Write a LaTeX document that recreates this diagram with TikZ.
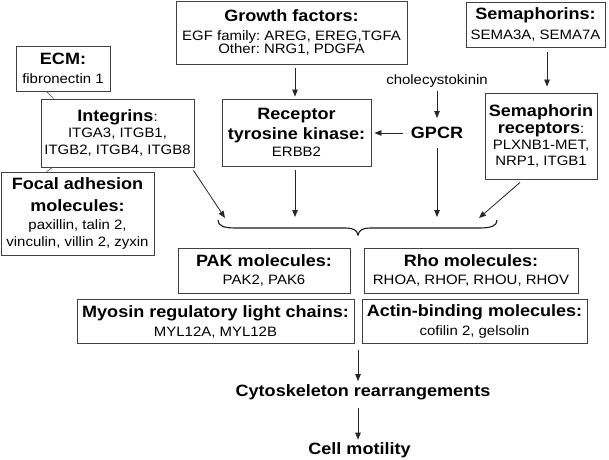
\documentclass[tikz,border=0pt]{standalone}
\usepackage{fontspec}
\setmainfont{Liberation Sans}[FakeStretch=1.1]
\usetikzlibrary{arrows.meta}
\newcommand\Rf{\fontsize{13.6}{16}\selectfont}
\newcommand\Bf{\fontsize{16.4}{19}\selectfont\bfseries}
\frenchspacing
\begin{document}
\frenchspacing
\begin{tikzpicture}[x=1pt,y=-1pt,
  box/.style={draw=black!75, line width=0.9pt, fill=white, inner sep=0pt, align=center, font=\Rf},
  lbl/.style={inner sep=3pt, font=\Rf},
  blbl/.style={inner sep=3pt, font=\Bf},
  arr/.style={-{Triangle[length=7pt,width=5.5pt]}, line width=0.8pt, draw=black!85},
  link/.style={line width=0.6pt, draw=black!70}]
\fill[white] (0,0) rectangle (609,459);
\useasboundingbox (0,0) rectangle (609,459);

% top row
\node[box, minimum width=231pt, minimum height=63pt] (growth) at (291.5,32.5)
  {{\Bf Growth factors:}\\[3pt] EGF family: AREG, EREG,TGFA\\[-2.5pt] Other: NRG1, PDGFA};
\node[box, minimum width=139pt, minimum height=45pt] (sema) at (535.5,24.5)
  {{\Bf Semaphorins:}\\[3.5pt] SEMA3A, SEMA7A};
\node[box, minimum width=94pt, minimum height=45pt] (ecm) at (63,68.5)
  {{\Bf ECM:}\\[3pt] fibronectin 1};
\node[box, minimum width=153pt, minimum height=68pt] (integrins) at (117.5,133)
  {{\Bf Integrins}:\\ ITGA3, ITGB1,\\[0.5pt] ITGB2, ITGB4, ITGB8};
\node[box, minimum width=153pt, minimum height=83pt] (focal) at (77.5,213.5)
  {{\Bf Focal adhesion}\\[5.7pt]{\Bf molecules:}\\[1.7pt] paxillin, talin 2,\\[1.3pt] vinculin, villin 2, zyxin};
\node[box, minimum width=149pt, minimum height=67pt] (rtk) at (296.5,132.5)
  {{\Bf Receptor}\\[4pt]{\Bf tyrosine kinase:}\\[1.3pt] ERBB2};
\node[box, minimum width=112pt, minimum height=86pt] (semrec) at (541,136)
  {{\Bf Semaphorin}\\[1.4pt]{\Bf receptors}:\\[-0.7pt] PLXNB1-MET,\\[0.3pt] NRP1, ITGB1};
\node[lbl] (chole) at (437,81) {cholecystokinin};
\node[blbl, inner xsep=7.5pt, inner ysep=9pt] (gpcr) at (437,133) {GPCR};

% lower boxes
\node[box, minimum width=172pt, minimum height=45pt] (pak) at (264,270.5)
  {{\Bf PAK molecules:}\\[2.3pt] PAK2, PAK6};
\node[box, minimum width=214pt, minimum height=45pt] (rho) at (471,270.5)
  {{\Bf Rho molecules:}\\[2.3pt] RHOA, RHOF, RHOU, RHOV};
\node[box, minimum width=277pt, minimum height=44pt] (myosin) at (215.5,321.5)
  {{\Bf Myosin regulatory light chains:}\\[3pt] MYL12A, MYL12B};
\node[box, minimum width=225pt, minimum height=44pt] (actin) at (474.5,321.5)
  {{\Bf Actin-binding molecules:}\\[3pt] cofilin 2, gelsolin};
\node[blbl] (cyto) at (363,392) {Cytoskeleton rearrangements};
\node[blbl] (cell) at (359.5,450.5) {Cell motility};

% links
\draw[link] ([xshift=31pt]ecm.south west) -- ([xshift=13pt]integrins.north west);
\draw[link] ([xshift=12pt]integrins.south west) -- ([xshift=46pt]focal.north west);

% brace
\coordinate (b1) at (225,218);
\coordinate (b2) at (295,217);
\coordinate (b3) at (437,217);
\coordinate (b4) at (479,218);
\coordinate (t1) at (358,350);
\draw[line width=1.1pt, black!90] (218,220) .. controls (218,226) and (224,228) .. (236,228)
  -- (346,228) .. controls (353,228) and (357,230) .. (358,235)
  .. controls (359,230) and (363,228) .. (370,228)
  -- (479,228) .. controls (491,228) and (497,226) .. (497,220);

% arrows
\draw[arr, shorten <=4pt, shorten >=2pt] (growth.south -| b2) -- (rtk.north -| b2);
\draw[arr, shorten <=5pt, shorten >=6pt] ([xshift=11.5pt]sema.south) -- ([xshift=6pt]semrec.north);
\draw[arr] (chole.south) -- (gpcr.north);
\draw[arr, shorten >=3pt] (gpcr.west) -- (gpcr.west -| rtk.east);
\draw[arr] ([xshift=-1pt,yshift=-3pt]integrins.south east) -- (b1);
\draw[arr, shorten <=4pt] (rtk.south -| b2) -- (b2);
\draw[arr] (gpcr.south) -- (b3);
\draw[arr] ([xshift=-21pt,yshift=-3pt]semrec.south) -- (b4);
\draw[arr] (t1) -- (t1 |- cyto.north);
\draw[arr, shorten <=5pt] (cyto.south -| t1) -- (cell.north -| t1);
\end{tikzpicture}
\end{document}
